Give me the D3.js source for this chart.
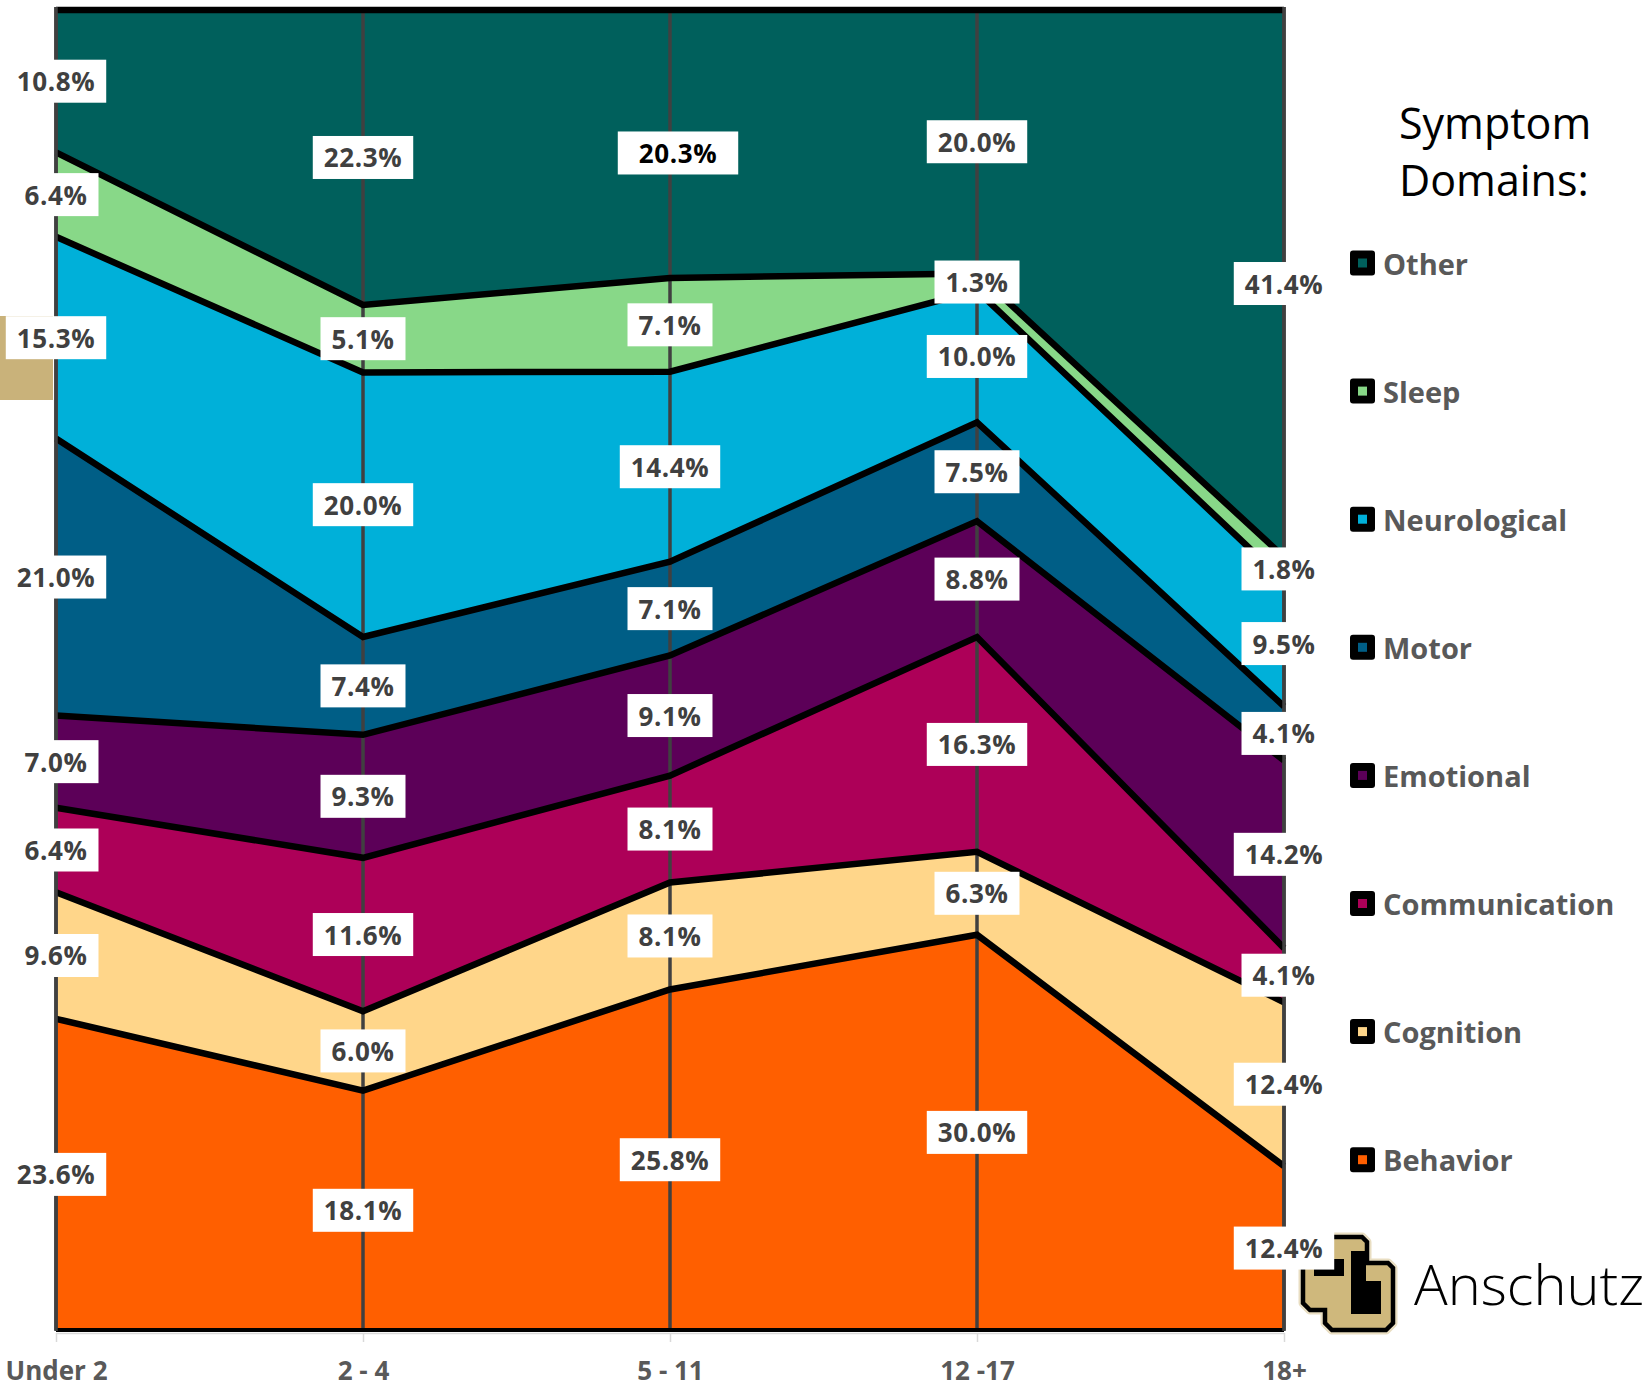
<!DOCTYPE html>
<html>
<head>
<meta charset="utf-8">
<script src="https://cdn.jsdelivr.net/npm/d3@7"></script>
<style>
  html, body { margin: 0; padding: 0; background: #ffffff; }
  svg { display: block; }
</style>
</head>
<body>
<svg id="chart" width="1647" height="1387"></svg>
<script>
// Age groups along the horizontal axis
const categories = ["Under 2", "2 - 4", "5 - 11", "12 -17", "18+"];

// Symptom domains, stacked from the bottom up
const domains = ["Behavior", "Cognition", "Communication", "Emotional", "Motor", "Neurological", "Sleep", "Other"];

// Share of reported symptoms (%) per age group
const behavior      = [23.6, 18.1, 25.8, 30.0, 12.4];
const cognition     = [9.6, 6.0, 8.1, 6.3, 12.4];
const communication = [6.4, 11.6, 8.1, 16.3, 4.1];
const emotional     = [7.0, 9.3, 9.1, 8.8, 14.2];
const motor         = [21.0, 7.4, 7.1, 7.5, 4.1];
const neurological  = [15.3, 20.0, 14.4, 10.0, 9.5];
const sleep         = [6.4, 5.1, 7.1, 1.3, 1.8];
const other         = [10.8, 22.3, 20.3, 20.0, 41.4];

const domainColors = ["#FF5F00", "#FFD68A", "#AD0058", "#5C0058", "#005E86", "#00B0D9", "#88D888", "#00605C"];

// Legend lists the domains from the top of the stack down
const legendOrder = ["Other", "Sleep", "Neurological", "Motor", "Emotional", "Communication", "Cognition", "Behavior"];

const seriesValues = [behavior, cognition, communication, emotional, motor, neurological, sleep, other];

const rows = categories.map((c, i) => {
  const r = { category: c };
  domains.forEach((d, k) => { r[d] = seriesValues[k][i]; });
  return r;
});

const svg = d3.select("#chart");
const FONT = "'Open Sans', 'Noto Sans', sans-serif";

const x = d3.scalePoint().domain(categories).range([56, 1284]);
const y = d3.scaleLinear().domain([0, 1]).range([1330, 10]);

const stacked = d3.stack().keys(domains).offset(d3.stackOffsetExpand)(rows);

// gold side tab
svg.append("rect").attr("x", 0).attr("y", 316).attr("width", 53).attr("height", 84).attr("fill", "#C9B27A");

const area = d3.area()
  .x(d => x(d.data.category))
  .y0(d => y(d[0]))
  .y1(d => y(d[1]));

const gPlot = svg.append("g");

gPlot.selectAll("path.band")
  .data(stacked)
  .join("path")
  .attr("class", "band")
  .attr("d", area)
  .attr("fill", (d, i) => domainColors[i]);

// drop lines at each age group
gPlot.selectAll("line.drop")
  .data(categories)
  .join("line")
  .attr("class", "drop")
  .attr("x1", d => x(d)).attr("x2", d => x(d))
  .attr("y1", y(1) - 3).attr("y2", y(0))
  .attr("stroke", "#404040")
  .attr("stroke-width", 3.5);

// black outlines along each band boundary
const edgeTop = d3.line().x(d => x(d.data.category)).y(d => y(d[1]));
const edgeBottom = d3.line().x(d => x(d.data.category)).y(d => y(d[0]));

gPlot.selectAll("path.edge")
  .data(stacked)
  .join("path")
  .attr("class", "edge")
  .attr("d", d => edgeTop(d))
  .attr("fill", "none")
  .attr("stroke", "#000")
  .attr("stroke-width", 6.5)
  .attr("stroke-linejoin", "miter");

gPlot.append("path")
  .attr("d", edgeBottom(stacked[0]))
  .attr("fill", "none")
  .attr("stroke", "#000")
  .attr("stroke-width", 4);

// plot frame sides
[categories[0], categories[categories.length - 1]].forEach(c => {
  gPlot.append("line")
    .attr("x1", x(c)).attr("x2", x(c))
    .attr("y1", y(1) - 3).attr("y2", y(0) + 1)
    .attr("stroke", "#404040").attr("stroke-width", 3.5);
});

// category axis
const axis = svg.append("g")
  .attr("transform", `translate(0,${y(0) + 3})`)
  .call(d3.axisBottom(x).tickSize(9).tickSizeOuter(0));
axis.select(".domain").attr("stroke", "#d9d9d9").attr("stroke-width", 1.5);
axis.selectAll(".tick line").attr("stroke", "#d9d9d9").attr("stroke-width", 1.5);
axis.selectAll(".tick text")
  .attr("y", 47).attr("dy", 0)
  .attr("fill", "#595959")
  .style("font-family", FONT)
  .style("font-weight", 700)
  .style("font-size", "26px");

// university mark
const logo = svg.append("g").attr("transform", "translate(1300,1235)");
const outerPath = "M12,2 H62 L67,7 V28 H88 L93,33 V88 L86,95 H32 L25,88 V75 H10 L3,68 V11 Z";
logo.append("path").attr("d", outerPath).attr("fill", "#E9DEC2").attr("stroke", "#E9DEC2").attr("stroke-width", 9).attr("stroke-linejoin", "round");
logo.append("path").attr("d", outerPath).attr("fill", "#CFB87C").attr("stroke", "#000").attr("stroke-width", 4.5).attr("stroke-linejoin", "miter");
logo.append("path").attr("d", "M14,24 H44 V41 H14 Z").attr("fill", "#000");
logo.append("path").attr("d", "M51,16 H66 V46 H81 V79 H51 Z").attr("fill", "#000");

svg.append("text")
  .attr("x", 1414).attr("y", 1305)
  .attr("fill", "#000")
  .style("font-family", "'Open Sans', sans-serif")
  .style("font-weight", 300)
  .style("font-size", "56px")
  .text("Anschutz");

// value labels at the middle of each band
const gLab = svg.append("g");
stacked.forEach((s, si) => {
  s.forEach((d, ci) => {
    const v = seriesValues[si][ci];
    const emphasized = domains[si] === "Other" && categories[ci] === "5 - 11";
    const cx = x(d.data.category) + (emphasized ? 8 : 0);
    const cy = (y(d[0]) + y(d[1])) / 2 + (emphasized ? 9 : 0);
    const g = gLab.append("g");
    const rect = g.append("rect").attr("fill", "#fff");
    const t = g.append("text")
      .attr("x", cx).attr("y", cy)
      .attr("text-anchor", "middle")
      .attr("dominant-baseline", "central")
      .attr("fill", emphasized ? "#000" : "#404040")
      .style("font-family", FONT)
      .style("font-weight", 700)
      .style("font-size", "26px")
      .style("letter-spacing", "0.6px")
      .text(v.toFixed(1) + "%");
    const w = t.node().getComputedTextLength() + (emphasized ? 42 : 22);
    rect.attr("x", cx - w / 2).attr("y", cy - 21.5).attr("width", w).attr("height", 43);
  });
});

// legend
const leg = svg.append("g");
leg.append("text")
  .attr("x", 1399).attr("y", 139)
  .attr("fill", "#000")
  .style("font-family", FONT)
  .style("font-size", "43px")
  .text("Symptom");
leg.append("text")
  .attr("x", 1399).attr("y", 196)
  .attr("fill", "#000")
  .style("font-family", FONT)
  .style("font-size", "43px")
  .text("Domains:");

legendOrder.forEach((name, i) => {
  const cy = 263 + i * 128.1;
  const col = domainColors[domains.indexOf(name)];
  leg.append("rect").attr("x", 1350).attr("y", cy - 12.5).attr("width", 25).attr("height", 25).attr("rx", 3).attr("fill", "#000");
  leg.append("rect").attr("x", 1358).attr("y", cy - 4.5).attr("width", 9).attr("height", 9).attr("fill", col);
  leg.append("text")
    .attr("x", 1383).attr("y", cy)
    .attr("dominant-baseline", "central")
    .attr("fill", "#595959")
    .style("font-family", FONT)
    .style("font-weight", 700)
    .style("font-size", "29px")
    .text(name);
});
</script>
</body>
</html>
